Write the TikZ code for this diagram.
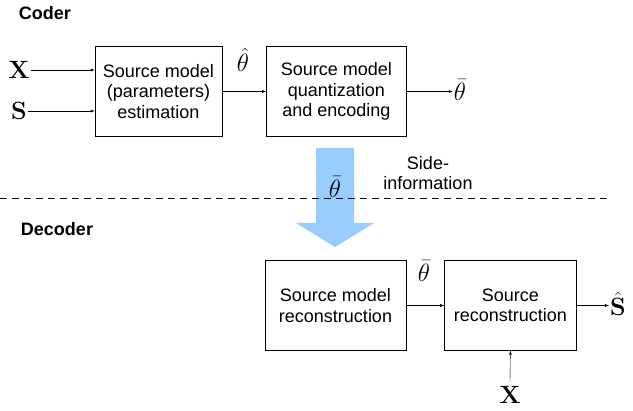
\RequirePackage{fix-cm}
\documentclass[tikz,border=0pt]{standalone}
\usepackage{amssymb}
\usepackage{amsmath}
\usepackage[no-math]{fontspec}
\setmainfont{Liberation Sans}
\usetikzlibrary{positioning}
\definecolor{sideblue}{RGB}{153,204,255}
\begin{document}
\begin{tikzpicture}[%
        x=1pt, y=-1pt,
        every node/.style={inner sep=0pt, font=\fontsize{18}{20.5}\selectfont},
        block/.style={draw, thin, align=center, minimum height=90pt},
        sym/.style={inner sep=1pt, font=\fontsize{25}{30}\selectfont},
        shorten >=0pt,
        >=latex
      ]
      \useasboundingbox (0,0) rectangle (633,411);
      % coder
      \node [font=\fontsize{18}{20}\selectfont\bfseries] (coder) at (45,13) {Coder};
      \node [block, minimum width=127pt] (0) at (158.5,91.5) {Source model\\(parameters)\\estimation};
      \node [block, minimum width=140pt, right=44pt of 0] (1) {Source model\\quantization\\and encoding};
      \node [sym] (x1) at (19,70) {$\mathbf{X}$};
      \node [sym] (s1) at (19,111) {$\mathbf{S}$};
      \node [sym] (th1) at (243,60) {$\hat{\theta}$};
      \node [sym] (th2) at (460,90) {$\bar{\theta}$};
      \coordinate (c1) at (0.west |- x1);
      \coordinate (c2) at (0.west |- s1);
      \coordinate (c3) at (th2.west |- 1.east);
      \draw [->] (x1.east) -- (c1);
      \draw [->] (s1.east) -- (c2);
      \draw [->] (0) -- (1);
      \draw [->] (1.east) -- (c3);
      % side information
      \fill [sideblue] (316,148) -- (354,148) -- (354,223) -- (374,223)
        -- (335,247) -- (296,223) -- (316,223) -- cycle;
      \draw [thick, dash pattern=on 7pt off 5pt] (0,198) -- (610,198);
      \node [sym, fill=sideblue] (th3) at (335,187) {$\bar{\theta}$};
      \node [align=center] (side) at (428,173) {Side-\\information};
      % decoder
      \node [font=\fontsize{18}{20}\selectfont\bfseries] (decoder) at (57,229) {Decoder};
      \node [block, minimum width=141pt] (2) at (335.5,305.5) {Source model\\reconstruction};
      \node [block, minimum width=132pt, right=38pt of 2] (3) {Source\\reconstruction};
      \node [sym] (th4) at (424,271) {$\bar{\theta}$};
      \node [sym] (sh) at (618,304) {$\hat{\mathbf{S}}$};
      \node [sym] (x2) at (510,395) {$\mathbf{X}$};
      \coordinate (c4) at (sh.west |- 3.east);
      \draw [->] (2) -- (3);
      \draw [->] (3.east) -- (c4);
      \draw [->] (x2.north) ++(0,-3) -- (3.south);
    \end{tikzpicture}
\end{document}
